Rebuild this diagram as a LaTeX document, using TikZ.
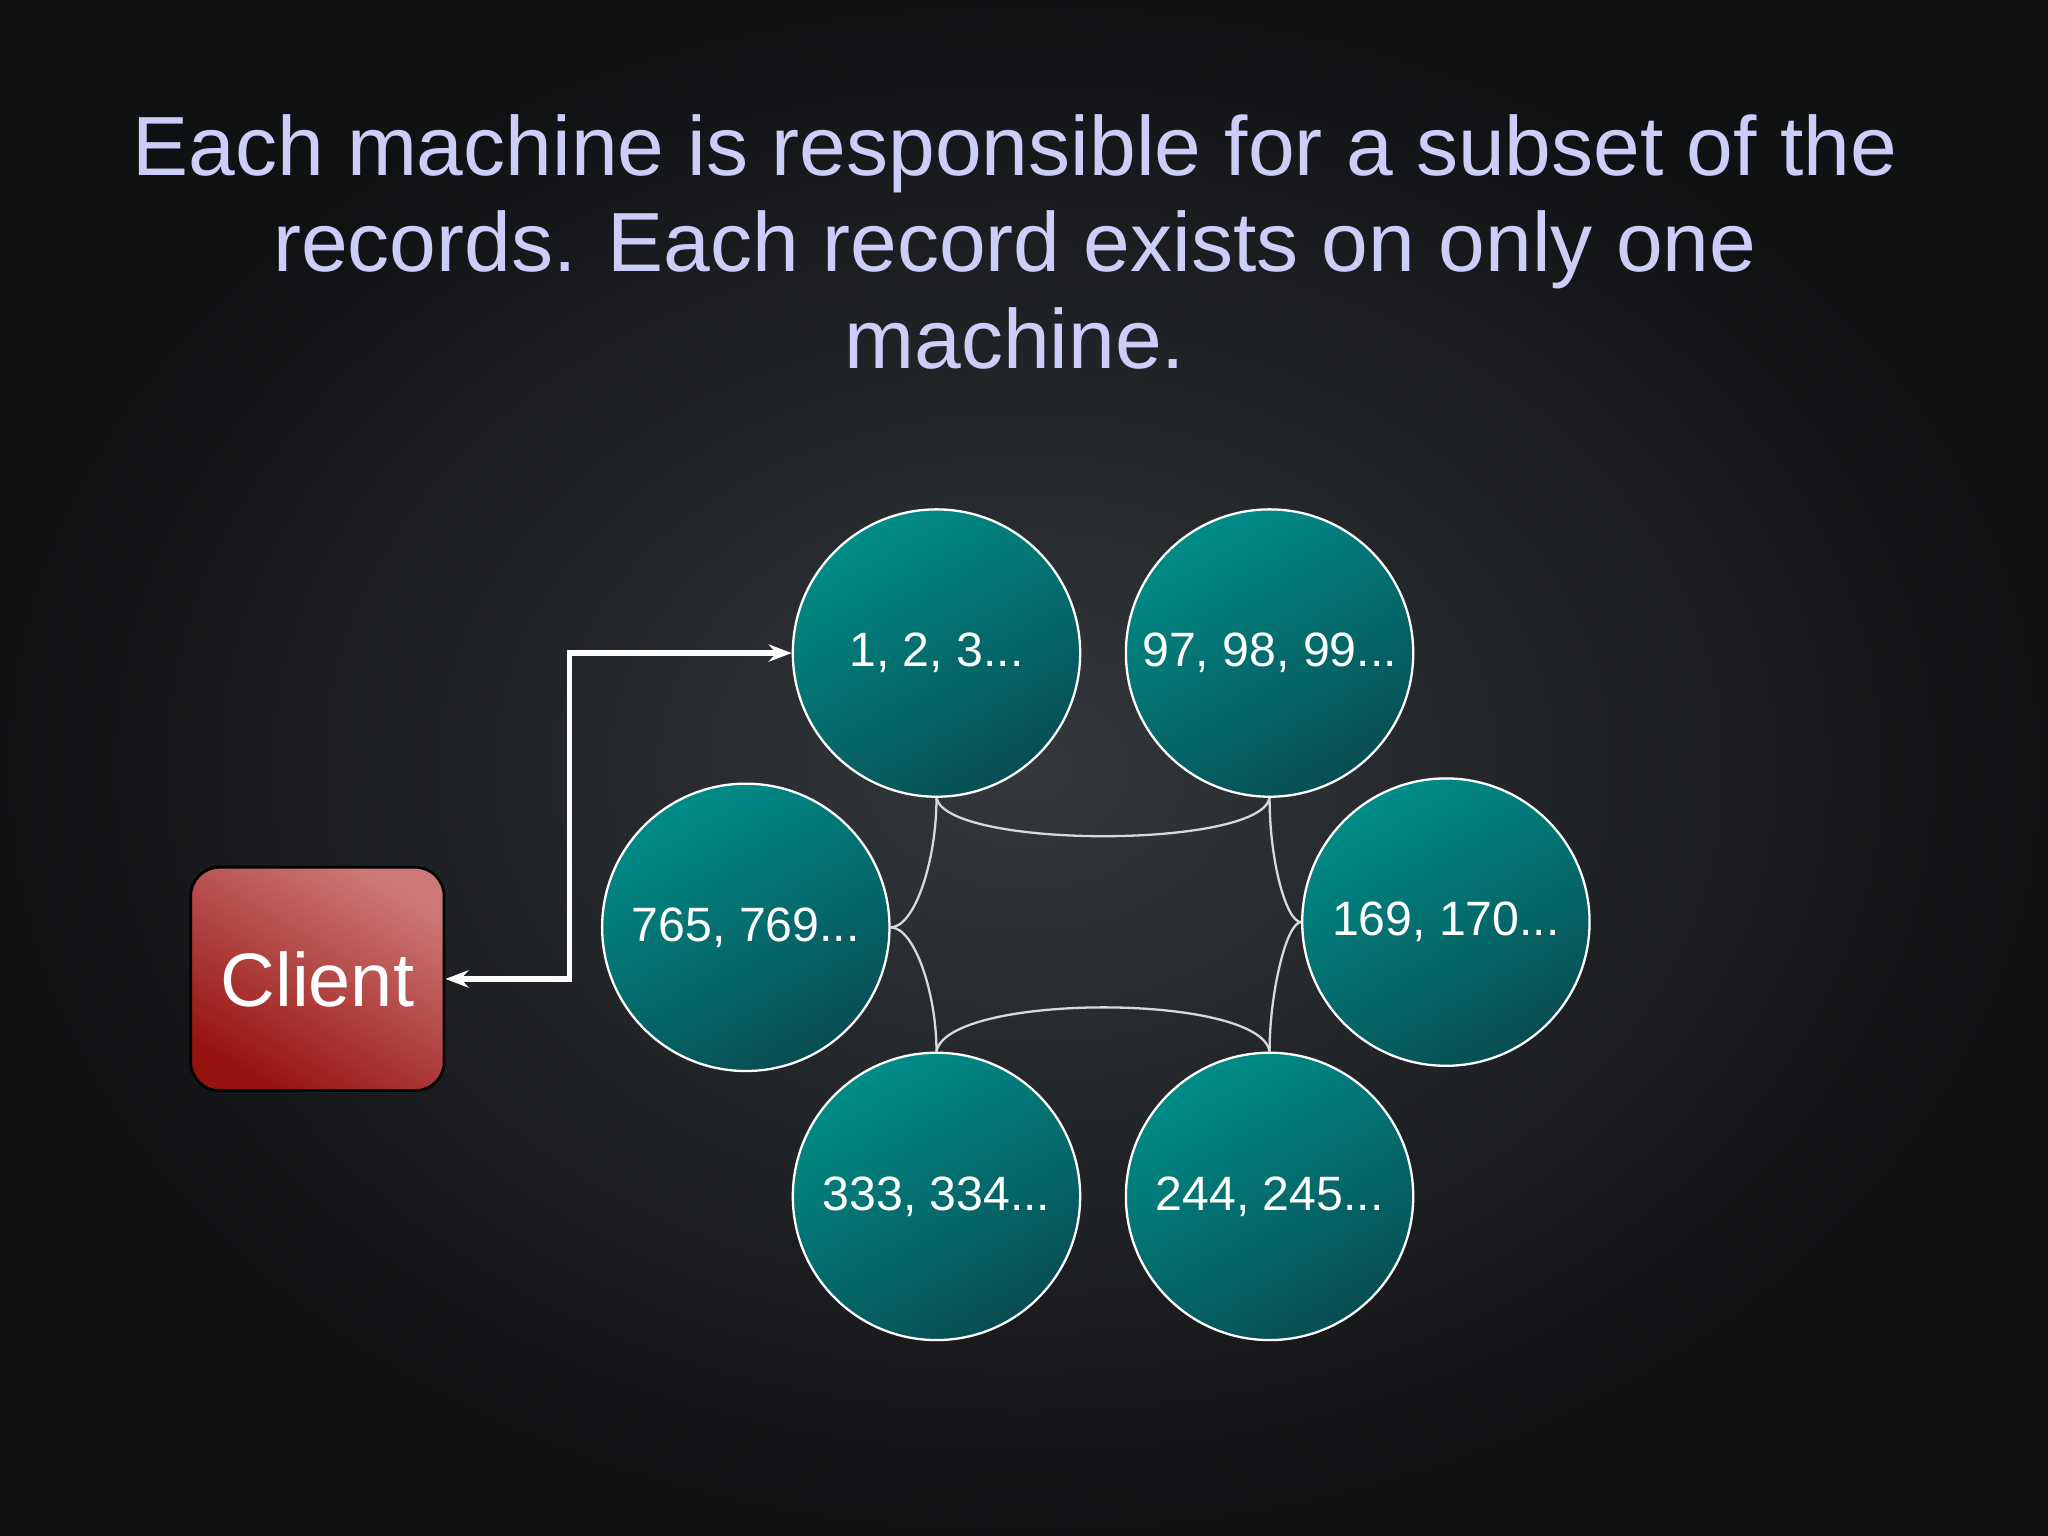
\documentclass[tikz,border=0pt]{standalone}
\usepackage{fontspec}
\setmainfont{Liberation Sans}
\usetikzlibrary{arrows.meta}
\definecolor{bgc}{RGB}{52,56,60}
\definecolor{bge}{RGB}{16,17,19}
\definecolor{titlec}{RGB}{205,205,250}
\definecolor{tealA}{RGB}{0,140,136}
\definecolor{tealB}{RGB}{8,78,82}
\definecolor{redA}{RGB}{205,120,120}
\definecolor{redB}{RGB}{150,20,15}
\tikzset{
  machine/.style={circle,draw=white,line width=0.5pt,minimum size=2.2cm,inner sep=0pt,
    top color=tealA,bottom color=tealB,shading angle=30,text=white,font=\fontsize{10.5}{12}\selectfont},
  clientbox/.style={rounded corners=0.22cm,draw=black,line width=0.6pt,minimum width=1.94cm,minimum height=1.71cm,
    top color=redA,bottom color=redB,shading angle=-30,text=white,font=\fontsize{16.5}{20}\selectfont},
  link/.style={draw=white!85!black,line width=0.5pt},
  req/.style={draw=white,line width=1.2pt,{Stealth[length=5pt]}-{Stealth[length=5pt]}}
}
\begin{document}
\begin{tikzpicture}
\useasboundingbox (0,0) rectangle (15.68,-11.76);
\shade[inner color=bgc,outer color=bge] (0,0) rectangle (15.68,-11.76);
\node[text=titlec,align=center,font=\fontsize{18.3}{21}\selectfont] (title) at (7.77,-1.85)
  {Each machine is responsible for a subset of the\\records. Each record exists on only one\\machine.};
\node[machine] (m1) at (7.17,-5.00) {1, 2, 3...};
\node[machine] (m2) at (9.72,-5.00) {97, 98, 99...};
\node[machine] (m6) at (5.71,-7.10) {765, 769...};
\node[machine] (m3) at (11.07,-7.06) {169, 170...};
\node[machine] (m5) at (7.17,-9.16) {333, 334...};
\node[machine] (m4) at (9.72,-9.16) {244, 245...};
\node[clientbox] (client) at (2.43,-7.495) {Client};
\draw[link] (m1.south) .. controls (7.25,-6.5) and (9.65,-6.5) .. (m2.south);
\draw[link] (m1.south) .. controls (7.17,-6.6) and (7.0,-7.1) .. (m6.east);
\draw[link] (m2.south) .. controls (9.72,-6.6) and (9.85,-7.06) .. (m3.west);
\draw[link] (m6.east) .. controls (7.0,-7.1) and (7.17,-7.6) .. (m5.north);
\draw[link] (m3.west) .. controls (9.85,-7.06) and (9.72,-7.6) .. (m4.north);
\draw[link] (m5.north) .. controls (7.25,-7.6) and (9.65,-7.6) .. (m4.north);
\coordinate (bend) at (4.36,-5.0);
\draw[req] (client.east) -| (bend) -- (m1.west);
\end{tikzpicture}
\end{document}
